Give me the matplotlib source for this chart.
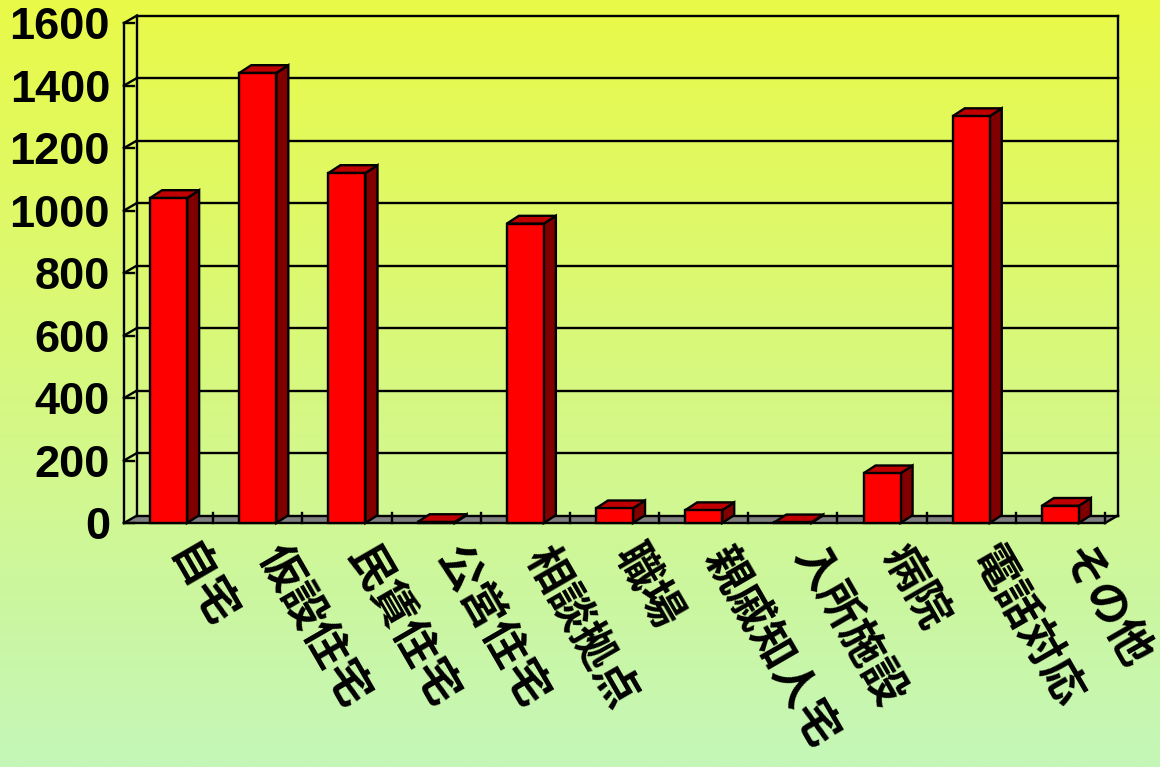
import numpy as np
import matplotlib
matplotlib.use("Agg")
import matplotlib.pyplot as plt
from matplotlib.patches import Polygon

# ---- data ----
categories = ["自宅", "仮設住宅", "民賃住宅", "公営住宅", "相談拠点", "職場",
              "親戚知人宅", "入所施設", "病院", "電話対応", "その他"]
values = [1040, 1440, 1120, 3, 958, 47, 41, 2, 159, 1302, 55]
yticks = [0, 200, 400, 600, 800, 1000, 1200, 1400, 1600]

# ---- style ----
W, H, DPI = 11.6, 7.67, 100
top_col = np.array([233, 250, 72]) / 255
bot_col = np.array([196, 246, 184]) / 255
front_col, top_face, side_face = "#FF0000", "#C00000", "#800000"
floor_col = "#808080"
lw = 1.7

fig = plt.figure(figsize=(W, H), dpi=DPI)

# gradient background
bg = fig.add_axes([0, 0, 1, 1], zorder=-1)
t = np.linspace(0, 1, 256)[:, None]
grad = top_col[None, None, :] * (1 - t[:, :, None]) + bot_col[None, None, :] * t[:, :, None]
bg.imshow(np.repeat(grad, 2, axis=1), aspect="auto", extent=[0, 1, 0, 1])
bg.axis("off")

n = len(categories)
ymax = yticks[-1]
ddx, ddy = 0.146, 24.0       # wall depth in data units
bdx, bdy = 0.135, 25.0       # bar depth
bw = 0.415                   # bar width

ax = fig.add_axes([0.1069, 0.31812, 0.8569, 0.66167])
ax.set_facecolor("none")
ax.set_xlim(-0.5, n - 0.5 + ddx)
ax.set_ylim(0, ymax + ddy)
for s in ax.spines.values():
    s.set_visible(False)

x0, x1 = -0.5, n - 0.5
kw = dict(color="black", lw=lw, clip_on=False, solid_capstyle="projecting")

# floor
ax.add_patch(Polygon([(x0, 0), (x1, 0), (x1 + ddx, ddy), (x0 + ddx, ddy)],
                     closed=True, facecolor=floor_col, edgecolor="none", zorder=1, clip_on=False))
ax.plot([x0, x1], [0, 0], zorder=2, **kw)
ax.plot([x1, x1 + ddx], [0, ddy], zorder=2, **kw)
for k in range(1, n + 1):
    ax.plot([k - 0.5, k - 0.5], [0, 32], zorder=2, **kw)

# gridlines on back wall and left wall
for v in yticks:
    ax.plot([x0 + ddx, x1 + ddx], [v + ddy, v + ddy], zorder=1, **kw)
    ax.plot([x0, x0 + ddx], [v, v + ddy], zorder=1, **kw)
    ax.plot([x0, x0 + 0.11], [v, v], zorder=1, **kw)
# walls edges
ax.plot([x0, x0], [0, ymax], zorder=2, **kw)
ax.plot([x0 + ddx, x0 + ddx], [ddy, ymax + ddy], zorder=1, **kw)
ax.plot([x1 + ddx, x1 + ddx], [ddy, ymax + ddy], zorder=1, **kw)

# bars
for i, v in enumerate(values):
    l, r = i - bw / 2, i + bw / 2
    ax.add_patch(Polygon([(r, 0), (r + bdx, bdy), (r + bdx, v + bdy), (r, v)],
                         facecolor=side_face, edgecolor="black", lw=lw, zorder=3, clip_on=False,
                         joinstyle="miter"))
    ax.add_patch(Polygon([(l, v), (r, v), (r + bdx, v + bdy), (l + bdx, v + bdy)],
                         facecolor=top_face, edgecolor="black", lw=lw, zorder=3, clip_on=False,
                         joinstyle="miter"))
    ax.add_patch(Polygon([(l, 0), (r, 0), (r, v), (l, v)],
                         facecolor=front_col, edgecolor="black", lw=lw, zorder=4, clip_on=False,
                         joinstyle="miter"))

# y tick labels
ax.set_yticks(yticks)
ax.set_yticklabels([str(v) for v in yticks], fontsize=32.5, fontweight="bold",
                   family="Liberation Sans")
ax.tick_params(axis="y", length=0, pad=10)
ax.set_xticks([])

# x labels (rotated)
ang = 60
c, s = np.cos(np.radians(ang)), np.sin(np.radians(ang))
adv = 46  # px per character
for i, lab in enumerate(categories):
    m = (len(lab) - 1) / 2
    ox = 21 + m * adv * c
    oy = -(44 + m * adv * s)
    ax.annotate(lab, xy=(i, 0), xytext=(ox * 0.72, oy * 0.72), textcoords="offset points",
                rotation=-ang, rotation_mode="anchor", ha="center", va="center",
                fontsize=32, fontweight="bold",
                family=["Noto Sans CJK JP", "DejaVu Sans"], annotation_clip=False)

fig.savefig("out.png", dpi=DPI)
